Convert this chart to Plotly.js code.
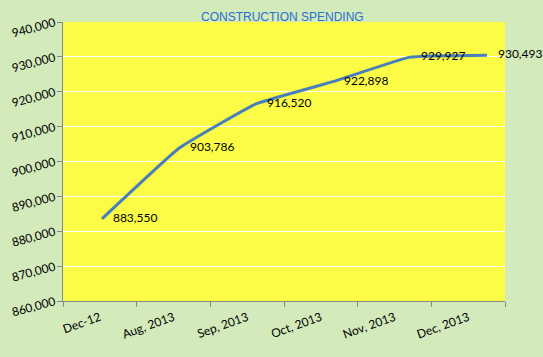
<!DOCTYPE html>
<html><head><meta charset="utf-8">
<script src="https://cdn.plot.ly/plotly-3.0.1.min.js"></script>
<style>body{margin:0;padding:0;}#chart{width:543px;height:357px;}</style>
</head><body><div id="chart"></div>
<script>
const categories = ["Dec-12", "Aug, 2013", "Sep, 2013", "Oct, 2013", "Nov, 2013", "Dec, 2013"];
const spending = [883550, 903786, 916520, 922898, 929927, 930493];
const labels = ["883,550", "903,786", "916,520", "922,898", "929,927", "930,493"];
const yTicks = [860000, 870000, 880000, 890000, 900000, 910000, 920000, 930000, 940000];
const positions = categories.map((c, i) => i);

const traces = [
  {x: categories, y: spending, xaxis: 'x', yaxis: 'y', type: 'scatter', mode: 'none', hoverinfo: 'skip', showlegend: false},
  {x: positions, y: spending, xaxis: 'x2', yaxis: 'y', type: 'scatter', mode: 'lines+markers+text',
   line: {color: '#4a7ebb', width: 3, shape: 'spline', smoothing: 0.3},
   marker: {size: 16, color: 'rgba(0,0,0,0)'},
   text: labels, textposition: 'middle right',
   textfont: {family: 'Lato, "Open Sans", sans-serif', size: 12, color: '#000'}, cliponaxis: false, showlegend: false}
];
const layout = {
  width: 543, height: 357,
  paper_bgcolor: '#d3eabb', plot_bgcolor: '#fcfc46',
  margin: {l: 63, r: 38, t: 22, b: 56},
  title: {text: 'CONSTRUCTION SPENDING', x: 0.52, xanchor: 'center', y: 0.952, yanchor: 'middle',
    font: {family: '"Liberation Sans", Arial, sans-serif', size: 12, color: '#2a6fcf'}},
  xaxis: {type: 'category', range: [-0.5, 5.5], showgrid: false, showline: true, linecolor: '#868686', linewidth: 1,
    ticks: 'outside', ticklen: 5, tickcolor: '#868686', tickangle: -20, tickson: 'boundaries', ticklabelstandoff: 4,
    tickfont: {family: 'Lato, "Open Sans", sans-serif', size: 12, color: '#000'}, fixedrange: true},
  xaxis2: {overlaying: 'x', range: [-0.506, 5.234], visible: false, fixedrange: true},
  yaxis: {range: [860000, 940000], tickvals: yTicks, tickformat: ',d', showgrid: true, gridcolor: '#ffffff', gridwidth: 1,
    showline: true, linecolor: '#868686', linewidth: 1, ticks: 'outside', ticklen: 5, tickcolor: '#868686',
    tickangle: -15, zeroline: false,
    tickfont: {family: 'Lato, "Open Sans", sans-serif', size: 12, color: '#000'}, fixedrange: true}
};
Plotly.newPlot('chart', traces, layout, {displayModeBar: false, staticPlot: true});
</script></body></html>
